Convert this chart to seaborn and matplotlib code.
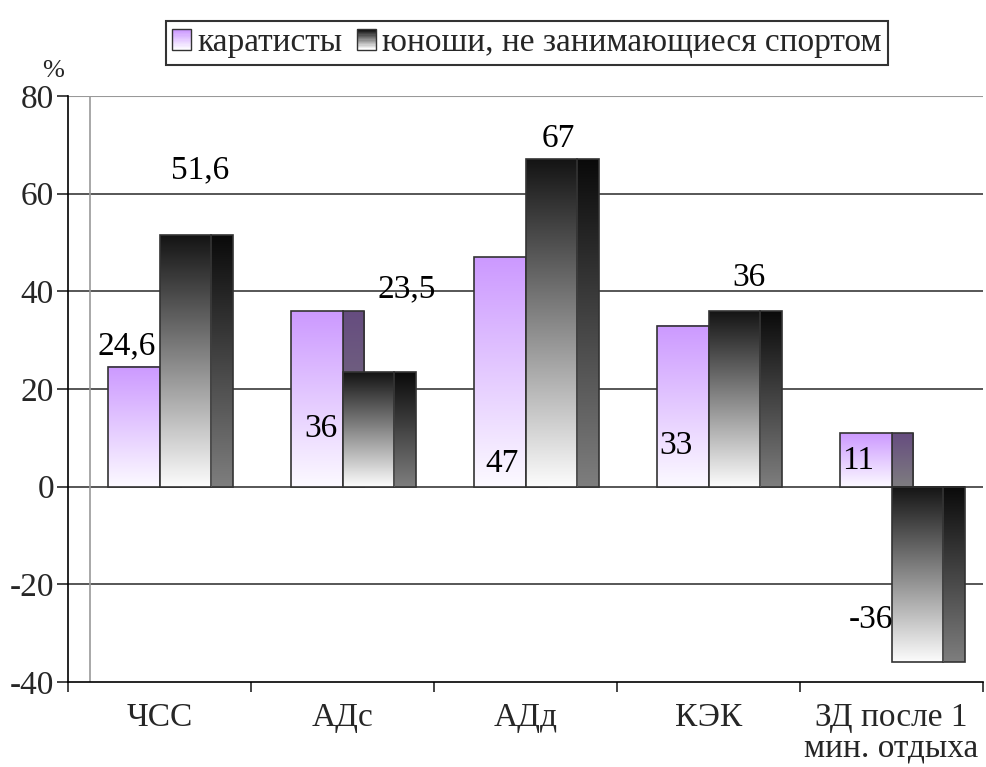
import numpy as np
import pandas as pd
import matplotlib
matplotlib.use("Agg")
import matplotlib.pyplot as plt
from matplotlib.patches import Rectangle
from matplotlib.legend_handler import HandlerBase
import seaborn as sns

# data
categories = ['ЧСС', 'АДс', 'АДд', 'КЭК', 'ЗД после 1\nмин. отдыха']
groups = ['каратисты', 'юноши, не занимающиеся спортом']
karate = [24.6, 36, 47, 33, 11]
nonsport = [51.6, 23.5, 67, 36, -36]

# value label text and where the labels sit (same odd spots as the original)
karate_txt = ['24,6', '36', '47', '33', '11']
nonsport_txt = ['51,6', '23,5', '67', '36', '-36']
karate_lx = [-0.18, 0.88, 1.87, 2.82, 3.82]
karate_ly = [28.8, 11.8, 4.7, 8.4, 5.3]
nonsport_lx = [0.22, 1.35, 2.18, 3.22, 3.89]
nonsport_ly = [64.9, 40.4, 71.2, 42.7, -27.3]

df = pd.DataFrame({
    'cat': categories * 2,
    'val': karate + nonsport,
    'grp': [groups[0]] * len(categories) + [groups[1]] * len(categories),
})

sns.set_style("white")
plt.rcParams['font.family'] = ['Liberation Serif', 'DejaVu Serif']
FS = 24

# gradient colours: front face top -> bottom, side face is half as bright
purple_top, purple_bot = np.array([204, 153, 255]) / 255, np.array([252, 250, 255]) / 255
dark_top, dark_bot = np.array([20, 20, 20]) / 255, np.array([252, 252, 252]) / 255
grads = [(purple_top, purple_bot), (dark_top, dark_bot)]
DEPTH = 0.12  # 3d side width in category units

fig = plt.figure(figsize=(9.86, 7.67), dpi=100)
ax = fig.add_axes([68 / 986, 85 / 767, 915 / 986, 586 / 767])

sns.barplot(data=df, x='cat', y='val', hue='grp', hue_order=groups,
            palette=['#CC99FF', '#222222'], width=0.565, saturation=1,
            errorbar=None, legend=False, ax=ax)


def grad_img(top, bot, n=256):
    t = np.linspace(0, 1, n)[:, None]
    return (top[None, :] * (1 - t) + bot[None, :] * t)[:, None, :]


for k, cont in enumerate(ax.containers):
    top, bot = grads[k]
    zb = 2 + 2 * k
    for p in cont.patches:
        x0, w = p.get_x(), p.get_width()
        y0, h = p.get_y(), p.get_height()
        ylo, yhi = min(y0, y0 + h), max(y0, y0 + h)
        # side face
        ax.imshow(grad_img(top * 0.5, bot * 0.5), extent=[x0 + w, x0 + w + DEPTH, ylo, yhi],
                  origin='upper', aspect='auto', zorder=zb, interpolation='bilinear')
        ax.add_patch(Rectangle((x0 + w, ylo), DEPTH, yhi - ylo, fc='none',
                               ec='#333333', lw=1.2, zorder=zb + 0.1))
        # front face
        ax.imshow(grad_img(top, bot), extent=[x0, x0 + w, ylo, yhi],
                  origin='upper', aspect='auto', zorder=zb + 0.5, interpolation='bilinear')
        p.set_facecolor('none')
        p.set_edgecolor('#333333')
        p.set_linewidth(1.2)
        p.set_zorder(zb + 0.6)

for txt, lx, ly in zip(karate_txt + nonsport_txt, karate_lx + nonsport_lx,
                       karate_ly + nonsport_ly):
    ax.text(lx, ly, txt, ha='center', va='center', fontsize=FS, color='black', zorder=10)

ax.set_xlim(-0.5, len(categories) - 0.5)
ax.set_ylim(-40, 80)

# gridlines and back wall
for yv in [-20, 0, 20, 40, 60]:
    ax.axhline(yv, color='#3a3a3a', lw=1.2, zorder=1)
ax.axhline(80, color='#999999', lw=1.5, zorder=1)
ax.axvline(-0.5 + DEPTH, color='#999999', lw=1.2, zorder=1)

ax.set_yticks(range(-40, 81, 20))
ax.set_yticklabels([str(v) for v in range(-40, 81, 20)], fontsize=FS)
ax.set_xticks(np.arange(-0.5, len(categories), 1.0))
ax.set_xticklabels([])
ax.set_xticks(range(len(categories)), labels=categories, minor=True)
ax.tick_params(axis='x', which='major', length=7, width=1.2, direction='out', bottom=True)
ax.tick_params(axis='x', which='minor', length=0, pad=15, labelsize=FS)
for lab in ax.get_xticklabels(minor=True):
    lab.set_linespacing(1.0)
ax.tick_params(axis='y', length=8, width=1.2, direction='out', left=True, pad=2)
ax.set_xlabel('')
ax.set_ylabel('')
for s in ['top', 'right']:
    ax.spines[s].set_visible(False)
for s in ['left', 'bottom']:
    ax.spines[s].set_color('black')
    ax.spines[s].set_linewidth(1.2)

fig.text(53 / 986, 1 - 71 / 767, '%', fontsize=FS - 5, ha='center', va='center')


class GradHandler(HandlerBase):
    def __init__(self, top, bot, n=16):
        super().__init__()
        self.top, self.bot, self.n = top, bot, n

    def create_artists(self, legend, orig_handle, xdescent, ydescent,
                       width, height, fontsize, trans):
        arts = []
        for i in range(self.n):
            t = i / (self.n - 1)
            c = self.top * (1 - t) + self.bot * t
            arts.append(Rectangle((-xdescent, -ydescent + height * (1 - (i + 1) / self.n)),
                                  width, height / self.n, fc=c, ec='none', transform=trans))
        arts.append(Rectangle((-xdescent, -ydescent), width, height, fc='none',
                              ec='#333333', lw=1.0, transform=trans))
        return arts


h1, h2 = Rectangle((0, 0), 1, 1), Rectangle((0, 0), 1, 1)
leg = fig.legend([h1, h2], groups, loc='center', bbox_to_anchor=(527 / 986, 1 - 43 / 767),
                 ncol=2, fontsize=FS, frameon=True, fancybox=False,
                 handlelength=0.55, handleheight=0.55, handletextpad=0.2, columnspacing=0.45,
                 borderpad=0.2, borderaxespad=0,
                 handler_map={h1: GradHandler(purple_top, purple_bot),
                              h2: GradHandler(dark_top, dark_bot)})
leg.get_frame().set_edgecolor('black')
leg.get_frame().set_linewidth(1.5)

fig.savefig('out.png', dpi=100)
